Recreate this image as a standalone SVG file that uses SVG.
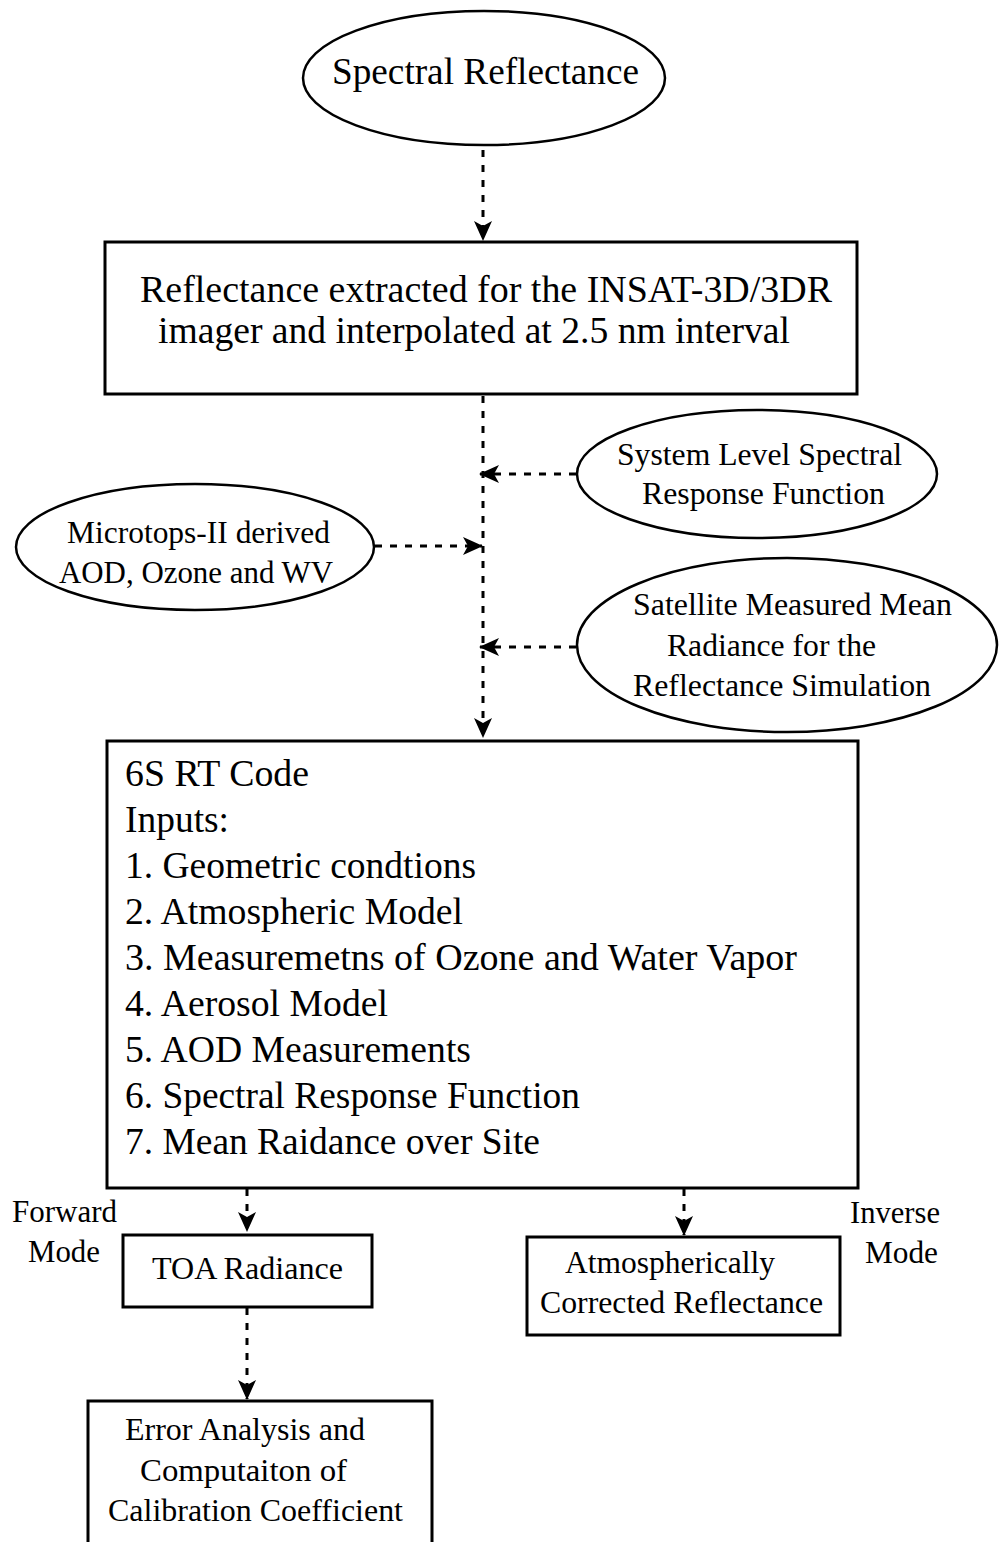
<svg xmlns="http://www.w3.org/2000/svg" width="999" height="1542" viewBox="0 0 999 1542">
<style>
  .shape { fill: #fff; stroke: #000; }
  .rect { stroke-width: 3; }
  .ell { stroke-width: 2.5; }
  .t { font-family: "Liberation Serif", "Times New Roman", serif; fill: #000; }
  .conn { fill: none; stroke: #000; stroke-width: 3; stroke-dasharray: 7 8; }
</style>
<defs>
  <marker id="arr" markerUnits="userSpaceOnUse" viewBox="0 0 20 20" markerWidth="20" markerHeight="20" refX="19" refY="10" orient="auto">
    <path d="M0,1 L20,10 L0,19 L5,10 Z" fill="#000"/>
  </marker>
</defs>
<rect width="999" height="1542" fill="#fff"/>

<g id="connectors">
  <path class="conn" d="M483,150 L483,240" marker-end="url(#arr)"/>
  <path class="conn" d="M483,396 L483,737" marker-end="url(#arr)"/>
  <path class="conn" d="M576,474 L480,474" marker-end="url(#arr)"/>
  <path class="conn" d="M375,546 L482,546" marker-end="url(#arr)"/>
  <path class="conn" d="M576,647 L480,647" marker-end="url(#arr)"/>
  <path class="conn" d="M247,1189 L247,1231" marker-end="url(#arr)"/>
  <path class="conn" d="M684,1189 L684,1235" marker-end="url(#arr)"/>
  <path class="conn" d="M247,1308 L247,1399" marker-end="url(#arr)"/>
</g>

<g id="spectral-reflectance">
  <ellipse class="shape ell" cx="484" cy="78" rx="181" ry="67"/>
  <text class="t" x="332" y="84" font-size="37" textLength="307" lengthAdjust="spacingAndGlyphs">Spectral Reflectance</text>
</g>

<g id="reflectance-extracted">
  <rect class="shape rect" x="105" y="242" width="752" height="152"/>
  <text class="t" x="140" y="302" font-size="37" textLength="692" lengthAdjust="spacingAndGlyphs">Reflectance extracted for the INSAT-3D/3DR</text>
  <text class="t" x="158" y="343" font-size="37" textLength="632" lengthAdjust="spacingAndGlyphs">imager and interpolated at 2.5 nm interval</text>
</g>

<g id="system-level-srf">
  <ellipse class="shape ell" cx="757" cy="474" rx="180" ry="64"/>
  <text class="t" x="617" y="465" font-size="31" textLength="285" lengthAdjust="spacingAndGlyphs">System Level Spectral</text>
  <text class="t" x="642" y="504" font-size="31" textLength="243" lengthAdjust="spacingAndGlyphs">Response Function</text>
</g>

<g id="microtops">
  <ellipse class="shape ell" cx="195" cy="547" rx="179" ry="63"/>
  <text class="t" x="67" y="543" font-size="31" textLength="263" lengthAdjust="spacingAndGlyphs">Microtops-II derived</text>
  <text class="t" x="59" y="583" font-size="31" textLength="274" lengthAdjust="spacingAndGlyphs">AOD, Ozone and WV</text>
</g>

<g id="satellite-radiance">
  <ellipse class="shape ell" cx="787" cy="645" rx="210" ry="87"/>
  <text class="t" x="633" y="615" font-size="31" textLength="319" lengthAdjust="spacingAndGlyphs">Satellite Measured Mean</text>
  <text class="t" x="667" y="656" font-size="31" textLength="209" lengthAdjust="spacingAndGlyphs">Radiance for the</text>
  <text class="t" x="633" y="696" font-size="31" textLength="298" lengthAdjust="spacingAndGlyphs">Reflectance Simulation</text>
</g>

<g id="sixs-rt-code">
  <rect class="shape rect" x="107" y="741" width="751" height="447"/>
  <text class="t" x="125" y="786" font-size="37" textLength="184" lengthAdjust="spacingAndGlyphs">6S RT Code</text>
  <text class="t" x="125" y="832" font-size="37" textLength="104" lengthAdjust="spacingAndGlyphs">Inputs:</text>
  <text class="t" x="125" y="878" font-size="37" textLength="351" lengthAdjust="spacingAndGlyphs">1. Geometric condtions</text>
  <text class="t" x="125" y="924" font-size="37" textLength="338" lengthAdjust="spacingAndGlyphs">2. Atmospheric Model</text>
  <text class="t" x="125" y="970" font-size="37" textLength="672" lengthAdjust="spacingAndGlyphs">3. Measuremetns of Ozone and Water Vapor</text>
  <text class="t" x="125" y="1016" font-size="37" textLength="263" lengthAdjust="spacingAndGlyphs">4. Aerosol Model</text>
  <text class="t" x="125" y="1062" font-size="37" textLength="346" lengthAdjust="spacingAndGlyphs">5. AOD Measurements</text>
  <text class="t" x="125" y="1108" font-size="37" textLength="455" lengthAdjust="spacingAndGlyphs">6. Spectral Response Function</text>
  <text class="t" x="125" y="1154" font-size="37" textLength="415" lengthAdjust="spacingAndGlyphs">7. Mean Raidance over Site</text>
</g>

<g id="forward-mode-label">
  <text class="t" x="12" y="1222" font-size="31" textLength="105" lengthAdjust="spacingAndGlyphs">Forward</text>
  <text class="t" x="28" y="1262" font-size="31" textLength="72" lengthAdjust="spacingAndGlyphs">Mode</text>
</g>

<g id="inverse-mode-label">
  <text class="t" x="850" y="1223" font-size="31" textLength="90" lengthAdjust="spacingAndGlyphs">Inverse</text>
  <text class="t" x="865" y="1263" font-size="31" textLength="73" lengthAdjust="spacingAndGlyphs">Mode</text>
</g>

<g id="toa-radiance">
  <rect class="shape rect" x="123" y="1235" width="249" height="72"/>
  <text class="t" x="152" y="1279" font-size="31" textLength="191" lengthAdjust="spacingAndGlyphs">TOA Radiance</text>
</g>

<g id="atmos-corrected">
  <rect class="shape rect" x="527" y="1237" width="313" height="98"/>
  <text class="t" x="565" y="1273" font-size="31" textLength="210" lengthAdjust="spacingAndGlyphs">Atmospherically</text>
  <text class="t" x="540" y="1313" font-size="31" textLength="283" lengthAdjust="spacingAndGlyphs">Corrected Reflectance</text>
</g>

<g id="error-analysis">
  <path class="shape rect" d="M88,1550 L88,1401 L432,1401 L432,1550"/>
  <text class="t" x="125" y="1440" font-size="32" textLength="240" lengthAdjust="spacingAndGlyphs">Error Analysis and</text>
  <text class="t" x="140" y="1481" font-size="32" textLength="207" lengthAdjust="spacingAndGlyphs">Computaiton of</text>
  <text class="t" x="108" y="1521" font-size="32" textLength="295" lengthAdjust="spacingAndGlyphs">Calibration Coefficient</text>
</g>
</svg>
